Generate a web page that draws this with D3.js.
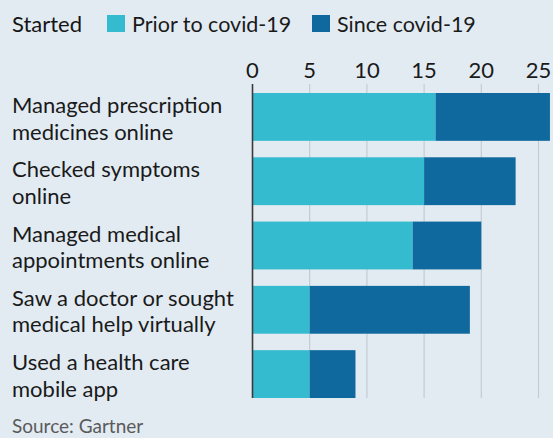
<!DOCTYPE html>
<html>
<head>
<meta charset="utf-8">
<script src="https://cdn.jsdelivr.net/npm/d3@7"></script>
<style>
  html, body { margin: 0; padding: 0; background: #e2ebf2; }
  svg { display: block; font-family: Lato, "Open Sans", sans-serif; }
</style>
</head>
<body>
<svg width="553" height="438"></svg>
<script>
// data
const categories = [
  ["Managed prescription", "medicines online"],
  ["Checked symptoms", "online"],
  ["Managed medical", "appointments online"],
  ["Saw a doctor or sought", "medical help virtually"],
  ["Used a health care", "mobile app"]
];
const priorToCovid = [16, 15, 14, 5, 5];
const sinceCovid = [10, 8, 6, 14, 4];
const ticks = [0, 5, 10, 15, 20, 25];
const seriesNames = ["Prior to covid-19", "Since covid-19"];
const colors = ["#35bbd0", "#0f699e"];

const svg = d3.select("svg");

const x = d3.scaleLinear()
  .domain([0, 25])
  .range([252.5, 538.5]);

const y = d3.scaleBand()
  .domain(d3.range(categories.length))
  .range([93, 398])
  .paddingInner(0.256)
  .paddingOuter(0);

// legend
svg.append("text")
  .attr("x", 12).attr("y", 32)
  .attr("font-size", 22)
  .attr("fill", "#151515")
  .text("Started");

const legendX = [107, 312];
seriesNames.forEach((name, i) => {
  svg.append("rect")
    .attr("x", legendX[i]).attr("y", 15)
    .attr("width", 18).attr("height", 17)
    .attr("fill", colors[i]);
  svg.append("text")
    .attr("x", legendX[i] + 25).attr("y", 32)
    .attr("font-size", 21.5)
    .attr("fill", "#1a1a1a")
    .text(name);
});

// grid lines
const g = svg.append("g");
g.selectAll(".grid")
  .data(ticks.slice(1))
  .enter().append("line")
  .attr("class", "grid")
  .attr("x1", d => x(d)).attr("x2", d => x(d))
  .attr("y1", 84).attr("y2", 398)
  .attr("stroke", "#c3cbd3")
  .attr("stroke-width", 1.2);

// top axis labels
g.selectAll(".tick-label")
  .data(ticks)
  .enter().append("text")
  .attr("class", "tick-label")
  .attr("x", d => x(d))
  .attr("y", 78)
  .attr("text-anchor", "middle")
  .attr("font-size", 22)
  .attr("fill", "#1a1a1a")
  .text(d => d);

// stacked bars
const stacked = categories.map((c, i) => ({ i: i, prior: priorToCovid[i], since: sinceCovid[i] }));

g.selectAll(".bar-prior")
  .data(stacked)
  .enter().append("rect")
  .attr("class", "bar-prior")
  .attr("x", x(0))
  .attr("y", d => y(d.i))
  .attr("width", d => x(d.prior) - x(0))
  .attr("height", y.bandwidth())
  .attr("fill", colors[0]);

g.selectAll(".bar-since")
  .data(stacked)
  .enter().append("rect")
  .attr("class", "bar-since")
  .attr("x", d => x(d.prior))
  .attr("y", d => y(d.i))
  .attr("width", d => x(d.prior + d.since) - x(d.prior))
  .attr("height", y.bandwidth())
  .attr("fill", colors[1]);

// zero line
g.append("line")
  .attr("x1", x(0)).attr("x2", x(0))
  .attr("y1", 84).attr("y2", 398)
  .attr("stroke", "#3a3a3a")
  .attr("stroke-width", 1.6);

// category labels
const labels = g.selectAll(".cat")
  .data(categories)
  .enter().append("text")
  .attr("class", "cat")
  .attr("font-size", 22)
  .attr("fill", "#1a1a1a");

labels.selectAll("tspan")
  .data((d, i) => d.map((line, j) => ({ line: line, j: j, i: i })))
  .enter().append("tspan")
  .attr("x", 12)
  .attr("y", d => y(d.i) + 20 + d.j * 26.5)
  .text(d => d.line);

// source
svg.append("text")
  .attr("x", 12).attr("y", 433)
  .attr("font-size", 19)
  .attr("fill", "#5a5a5a")
  .text("Source: Gartner");
</script>
</body>
</html>
